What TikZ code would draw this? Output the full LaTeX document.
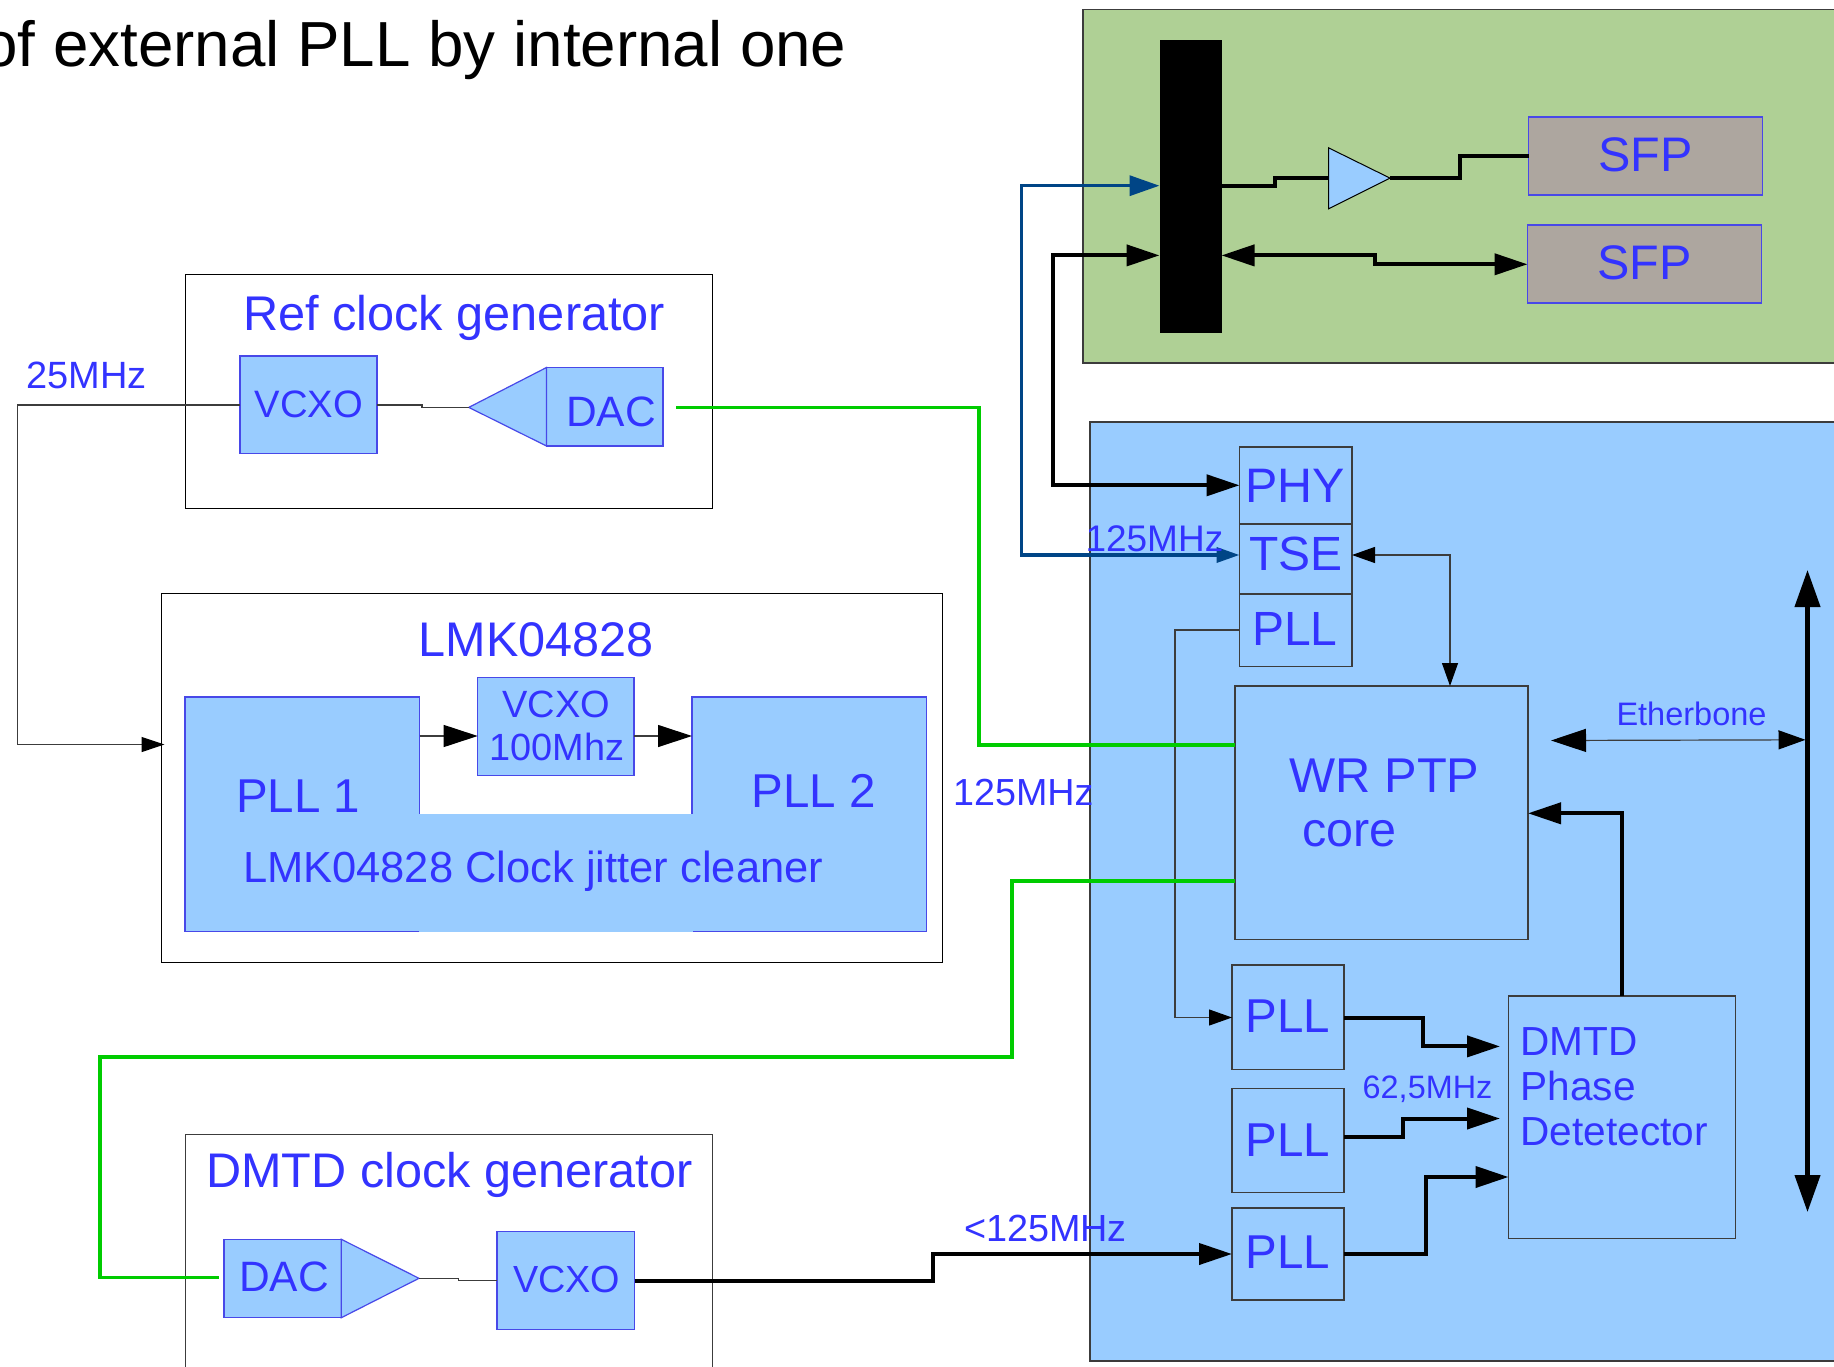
\documentclass[tikz,border=0pt]{standalone}
\usepackage{fontspec}
\setmainfont{Liberation Sans}
\usetikzlibrary{arrows.meta}
\definecolor{txtblue}{HTML}{3333FF}
\definecolor{fillblue}{HTML}{99CCFF}
\definecolor{edgeblue}{HTML}{4848E8}
\definecolor{boardgreen}{HTML}{AFD095}
\definecolor{sfpgrey}{HTML}{ADA69F}
\definecolor{wiregreen}{HTML}{00CC00}
\definecolor{wireblue}{HTML}{004586}
\definecolor{thinline}{HTML}{3C3C3C}
\newcommand{\pxbox}[6][]{%
  \pgfmathsetmacro{\pxw}{#5-#3}\pgfmathsetmacro{\pxh}{#6-#4}%
  \node[inner sep=0pt,outer sep=0pt,anchor=north west,minimum width=\pxw pt,minimum height=\pxh pt,#1] (#2) at (#3,#4) {};}
\newcommand{\pxlabel}[5]{%
  \node[inner sep=0pt,outer sep=0pt,anchor=base west,text=txtblue,font=\fontsize{#4}{#4}\selectfont] (#1) at (#2,#3) {#5};}
\newcommand{\tipk}[2]{Triangle[length=#1pt,width=#2pt,color=black]}
\tikzset{
  plain/.style={draw=black,line width=1pt,fill=white},
  greyframe/.style={draw=thinline,line width=1pt},
  bluebox/.style={draw=edgeblue,line width=1.2pt,fill=fillblue},
  darkbox/.style={draw=thinline,line width=1.1pt,fill=fillblue},
  sfpbox/.style={draw=edgeblue,line width=1.2pt,fill=sfpgrey},
  fine/.style={draw=thinline,line width=1.2pt},
  heavy/.style={draw=black,line width=4pt,line join=miter},
  greenwire/.style={draw=wiregreen,line width=3.4pt},
  bluewire/.style={draw=wireblue,line width=3.5pt},
}
\begin{document}
\begin{tikzpicture}[x=1pt,y=-1pt]
\useasboundingbox (0,0) rectangle (1834,1367);
\clip (0,0) rectangle (1834,1367);
\fill[white] (0,0) rectangle (1834,1367);
% big panels
\pxbox[draw=thinline,line width=1.2pt,fill=boardgreen]{board}{1083}{9.4}{1845}{363}
\pxbox[draw=thinline,line width=1.2pt,fill=fillblue]{fpga}{1090}{422}{1845}{1361}
% external frames
\pxbox[plain]{refframe}{185}{274.5}{712}{508.5}
\pxbox[plain]{lmkframe}{161}{593.5}{942}{962}
\pxbox[greyframe,fill=white]{dmtdframe}{185.5}{1134.7}{712}{1380}
% green board content
\pxbox[fill=black]{bar}{1159.5}{39.8}{1221.5}{332.6}
\pxbox[sfpbox]{sfpa}{1528.5}{117}{1762.5}{195}
\pxbox[sfpbox]{sfpb}{1527.5}{225}{1761.5}{303}
\draw[draw=black,line width=1pt,fill=fillblue] (1328.5,147.8) -- (1390,178.1) coordinate (amptip) -- (1328.5,208.9) -- cycle;
\coordinate (ampin) at (1328.5,178.1);
% FPGA content
\pxbox[darkbox]{phy}{1239.5}{447}{1352}{524}
\pxbox[darkbox]{tse}{1239.5}{524}{1352}{594}
\pxbox[darkbox]{pllz}{1239.5}{594}{1352}{666.5}
\pxbox[darkbox]{core}{1235}{686}{1528}{939.5}
\pxbox[darkbox]{plla}{1232}{965}{1344}{1069.5}
\pxbox[darkbox]{pllb}{1232}{1088.5}{1344}{1192.5}
\pxbox[darkbox]{pllc}{1232}{1208}{1344}{1300}
\pxbox[darkbox]{dmtd}{1508.5}{996}{1735.5}{1238.5}
% ref generator
\pxbox[bluebox]{vcxoa}{240}{356}{377}{453.5}
\pxbox[bluebox]{daca}{546.5}{367.5}{663}{446}
\draw[draw=edgeblue,line width=1.2pt,fill=fillblue] (546.5,367.5) -- (468.8,407.4) coordinate (ampatip) -- (546.5,446) -- cycle;
% LMK block
\pxbox[bluebox]{plla1}{185}{697}{419.5}{931.3}
\pxbox[bluebox]{plla2}{692}{697}{926.7}{931.3}
\pxbox[fill=fillblue]{lmkbase}{419}{814.2}{692.5}{931.9}
\pxbox[bluebox]{vcxom}{477.7}{677.5}{634}{775.5}
% DMTD generator
\pxbox[bluebox]{dacb}{224}{1239.3}{341.3}{1317.7}
\draw[draw=edgeblue,line width=1.2pt,fill=fillblue] (341.3,1239.3) -- (419,1278.3) coordinate (ampbtip) -- (341.3,1317.7) -- cycle;
\pxbox[bluebox]{vcxob}{497}{1231.3}{634.5}{1329.7}
% thin connectors
\coordinate (lmkin) at (164.5,744.5);
\draw[fine] (vcxoa.east |- 0,405) -- (422,405) -- (422,407.4) -- (ampatip);
\draw[fine,-{\tipk{23}{15}}] (vcxoa.west |- 0,405) -- (17.2,405) -- (17.2,744.5) -- (lmkin);
\draw[fine,-{\tipk{34}{22}}] (plla1.east |- 0,736) -- (vcxom.west |- 0,736);
\draw[fine,-{\tipk{34}{22}}] (vcxom.east |- 0,736) -- (plla2.west |- 0,736);
\draw[fine] (ampbtip) -- (458.5,1278.3) -- (458.5,1280.7) -- (vcxob.west |- 0,1280.7);
\draw[fine,-{\tipk{23}{16}}] (pllz.west |- 0,630) -- (1175,630) -- (1175,1017.5) -- (plla.west |- 0,1017.5);
\draw[fine,{\tipk{23}{16}}-{\tipk{23}{16}}] (tse.east |- 0,555) -- (1450,555) -- (core.north -| 1450,0);
\draw[fine,{\tipk{35}{23}}-{\tipk{27}{19}}] (1551,740.5) coordinate (ethl) -- (1805.5,739.8) coordinate (ethr);
% heavy connectors
\draw[heavy] (bar.east |- 0,185.7) -- (1275,185.7) -- (1275,178.1) -- (ampin);
\draw[heavy] (amptip) -- (1459.5,178.1) -- (1459.5,155.8) -- (sfpa.west |- 0,155.8);
\draw[heavy,{\tipk{33}{21}}-{\tipk{33}{21}}] (bar.east |- 0,255.4) -- (1375,255.4) -- (1375,264.3) -- (sfpb.west |- 0,264.3);
\draw[heavy,{\tipk{33}{21}}-{\tipk{33}{21}}] (bar.west |- 0,255.4) -- (1052.5,255.4) -- (1052.5,485.3) -- (phy.west |- 0,485.3);
\draw[heavy,-{\tipk{33}{21}}] (plla.east |- 0,1017.5) -- (1422.6,1017.5) -- (1422.6,1046.4) -- (1500,1046.4) coordinate (dma);
\draw[heavy,-{\tipk{33}{21}}] (pllb.east |- 0,1137) -- (1403,1137) -- (1403,1118.5) -- (1500,1118.5) coordinate (dmb);
\draw[heavy,-{\tipk{33}{21}}] (pllc.east |- 0,1254) -- (1426,1254) -- (1426,1177) -- (dmtd.west |- 0,1177);
\draw[heavy,-{\tipk{33}{21}}] (dmtd.north -| 1622,0) -- (1622,813.3) -- (core.east |- 0,813.3);
\draw[heavy,-{\tipk{33}{21}}] (vcxob.east |- 0,1280.7) -- (933.4,1280.7) -- (933.4,1254) -- (pllc.west |- 0,1254);
\draw[draw=black,line width=4.2pt,{\tipk{37}{25}}-{\tipk{37}{25}}] (1807.5,570) coordinate (bustop) -- (1807.5,1212) coordinate (busbot);
% blue wires
\coordinate (bluemid) at (1021.5,370);
\draw[bluewire,-{Triangle[length=30pt,width=20pt]}] (bluemid) -- (1021.5,185.7) -- (bar.west |- 0,185.7);
\draw[bluewire,-{Triangle[length=23pt,width=15pt]}] (bluemid) -- (1021.5,555) -- (tse.west |- 0,555);
% green wires
\draw[greenwire] (676,407.4) coordinate (dacout) -- (979,407.4) -- (979,744.8) -- (core.west |- 0,744.8);
\draw[greenwire] (core.west |- 0,881) -- (1012,881) -- (1012,1057) -- (100,1057) -- (100,1277.3) -- (219.2,1277.3) coordinate (dacin);
% title
\node[inner sep=0pt,outer sep=0pt,anchor=base east,text=black,font=\fontsize{63.7}{64}\selectfont] (title) at (846.5,67) {of external PLL by internal one};
% labels
\pxlabel{la1}{243}{330.2}{48.7}{Ref clock generator}
\pxlabel{la2}{254.8}{417.5}{38.2}{VCXO}
\pxlabel{la3}{566}{426}{42.5}{DAC}
\pxlabel{la4}{26.5}{388.6}{38}{25MHz}
\pxlabel{la5}{418.5}{656}{48.6}{LMK04828}
\pxlabel{la6}{502.5}{717.5}{38}{VCXO}
\pxlabel{la7}{489.5}{760}{37.9}{100Mhz}
\pxlabel{la8}{236}{812}{47.5}{PLL 1}
\pxlabel{la9}{751.5}{807.7}{47.5}{PLL 2}
\pxlabel{la10}{243}{882.5}{43.5}{LMK04828 Clock jitter cleaner}
\pxlabel{la11}{953.2}{805.5}{37.7}{125MHz}
\pxlabel{la12}{206.3}{1187.5}{48.6}{DMTD clock generator}
\pxlabel{la13}{239.3}{1291.7}{42.5}{DAC}
\pxlabel{la14}{513}{1292.3}{37.8}{VCXO}
\pxlabel{la15}{964}{1241.7}{37.8}{<125MHz}
\pxlabel{la16}{1598}{171.5}{48.5}{SFP}
\pxlabel{la17}{1597.5}{279.5}{48.5}{SFP}
\pxlabel{la18}{1245.5}{502}{48.4}{PHY}
\pxlabel{la19}{1249}{570}{48}{TSE}
\pxlabel{la20}{1085.5}{551}{37}{125MHz}
\pxlabel{la21}{1252}{645}{48}{PLL}
\pxlabel{la22}{1289.7}{792}{48.8}{WR PTP}
\pxlabel{la23}{1302.5}{846}{48.5}{core}
\pxlabel{la24}{1616.5}{725.4}{32.5}{Etherbone}
\pxlabel{la25}{1245.8}{1032.9}{47.5}{PLL}
\pxlabel{la26}{1245.8}{1156}{47.5}{PLL}
\pxlabel{la27}{1245.8}{1268.7}{47.5}{PLL}
\pxlabel{la28}{1362.7}{1098.2}{32.4}{62,5MHz}
\pxlabel{la29}{1520.6}{1055.4}{40.6}{DMTD}
\pxlabel{la30}{1520.6}{1100.5}{40.6}{Phase}
\pxlabel{la31}{1520.6}{1145.6}{40.6}{Detetector}
\end{tikzpicture}
\end{document}
